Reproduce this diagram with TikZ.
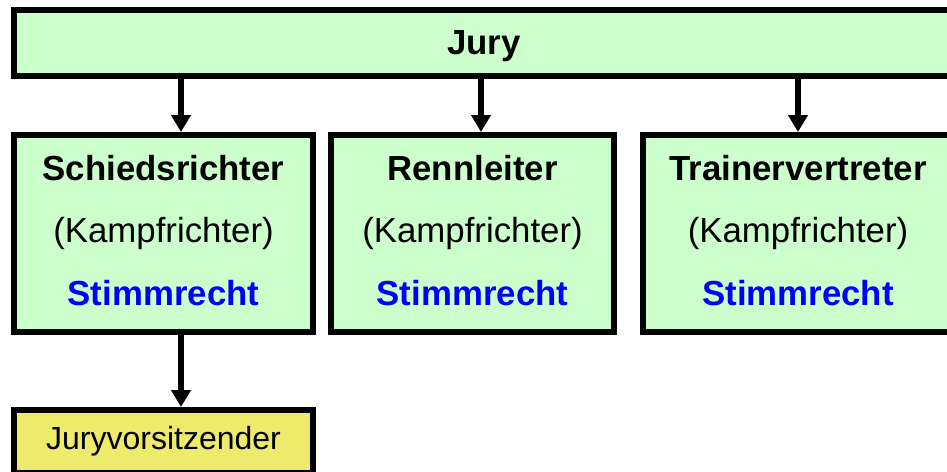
\documentclass[tikz,border=0pt]{standalone}
\usepackage{fontspec}
\setmainfont{Liberation Sans}
\usetikzlibrary{arrows.meta}

\definecolor{juryGreen}{HTML}{CCFFCC}
\definecolor{chairYellow}{HTML}{EEEA6C}
\definecolor{voteBlue}{HTML}{0000FF}

\newcommand{\vote}{\textcolor{voteBlue}{\bfseries Stimmrecht}}

\begin{document}
\begin{tikzpicture}[x=0.5pt,y=-0.5pt]

      \path[use as bounding box,clip] (0,0) rectangle (947,471);

      \begin{scope}[every node/.style={draw,line width=3pt,inner sep=0pt,align=center,
          fill=juryGreen,font=\fontsize{17.4}{31.25}\selectfont}]
        \node[minimum width=470pt,minimum height=33pt,text depth=0pt] (jury) at (484,43) {\bfseries Jury};
        \node[minimum width=149.5pt,minimum height=98.5pt,text depth=3.5pt] (schiedsrichter) at (163.5,233.5)
          {\bfseries Schiedsrichter\\(Kampfrichter)\\\vote};
        \node[minimum width=141.5pt,minimum height=98.5pt,text depth=3.5pt] (rennleiter) at (472.5,233.5)
          {\bfseries Rennleiter\\(Kampfrichter)\\\vote};
        \node[minimum width=155pt,minimum height=98.5pt,text depth=3.5pt] (trainer) at (798,233.5)
          {\bfseries Trainervertreter\\(Kampfrichter)\\\vote};
        \node[fill=chairYellow,font=\fontsize{16}{19}\selectfont,
          minimum width=149.5pt,minimum height=31.5pt] (vorsitz) at (163.5,441.5)
          {Juryvorsitzender};
      \end{scope}

      \coordinate (a1) at (181,0);
      \coordinate (a2) at (481,0);
      \coordinate (a3) at (798,0);

      \begin{scope}[every edge/.style={draw,line width=2.6pt,-{Triangle[width=9.5pt,length=8.5pt]}}]
        \path (jury.south -| a1) edge (schiedsrichter.north -| a1);
        \path (jury.south -| a2) edge (rennleiter.north -| a2);
        \path (jury.south -| a3) edge (trainer.north -| a3);
        \path (schiedsrichter.south -| a1) edge (vorsitz.north -| a1);
      \end{scope}

    \end{tikzpicture}
\end{document}
